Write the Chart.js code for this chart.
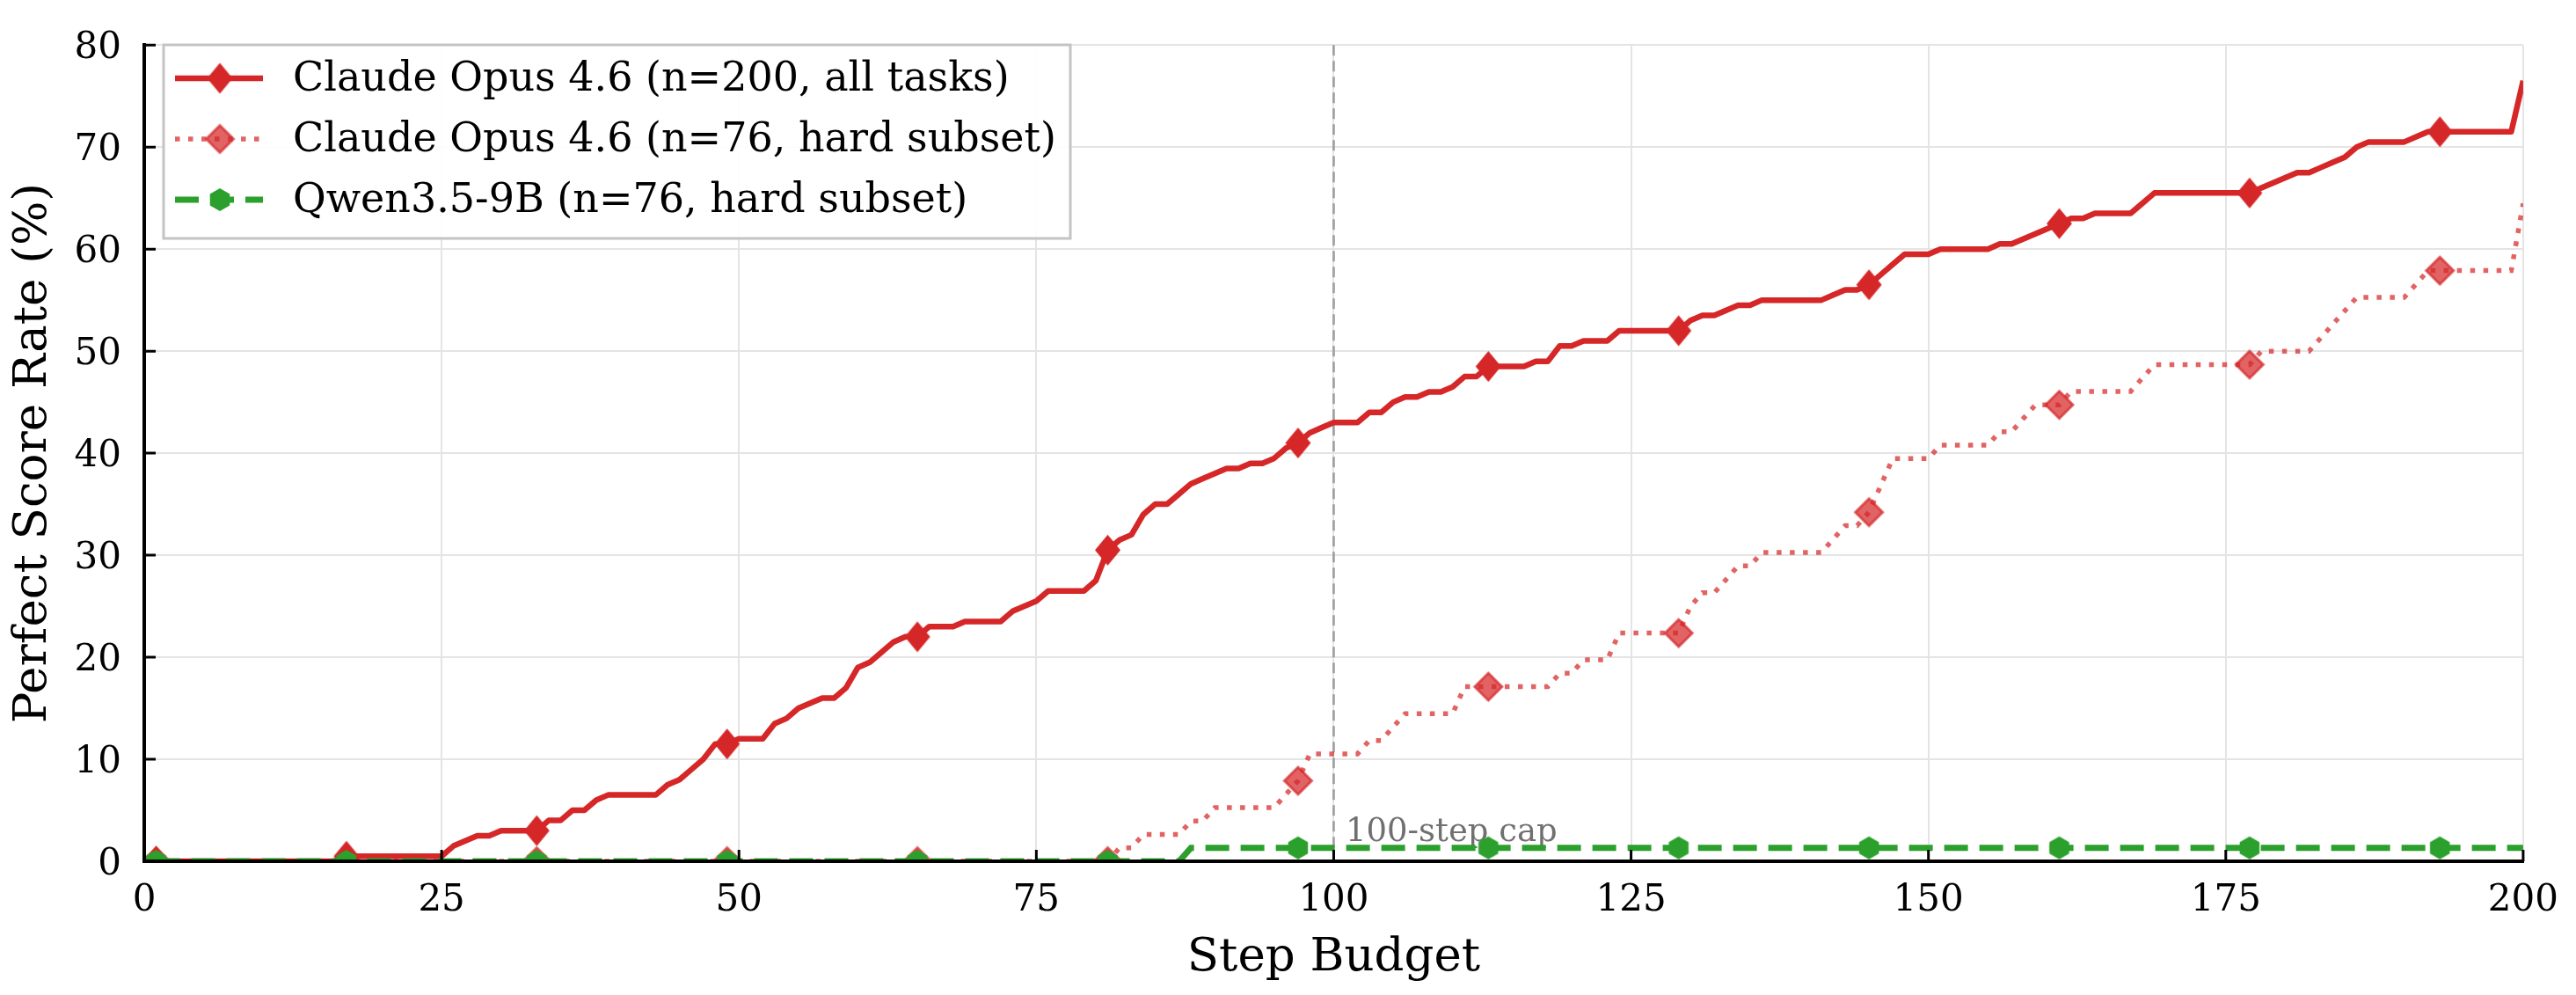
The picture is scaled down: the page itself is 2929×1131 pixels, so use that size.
<!DOCTYPE html>
<html>
<head>
<meta charset="utf-8">
<title>Perfect score rate vs step budget</title>
<script src="https://cdn.jsdelivr.net/npm/chart.js@4.4.1/dist/chart.umd.min.js"></script>
<style>
  html, body { margin: 0; padding: 0; background: #fff; }
  #wrap { width: 2929px; height: 1131px; position: relative; }
</style>
</head>
<body>
<div id="wrap"><canvas id="myChart"></canvas></div>
<script>
// step budgets 1..200 (x categories)
var steps = [];
for (var s = 1; s <= 200; s++) steps.push(s);

var xTickValues = [0, 25, 50, 75, 100, 125, 150, 175, 200];
var yTickValues = [0, 10, 20, 30, 40, 50, 60, 70, 80];

var seriesLabels = [
  'Claude Opus 4.6 (n=200, all tasks)',
  'Claude Opus 4.6 (n=76, hard subset)',
  'Qwen3.5-9B (n=76, hard subset)'
];

// perfect score rate (%) at each step budget
var allTasks = [
  0, 0, 0, 0, 0, 0, 0, 0, 0, 0, 0, 0, 0, 0, 0, 0, 0.5, 0.5, 0.5, 0.5,
  0.5, 0.5, 0.5, 0.5, 0.5, 1.5, 2.0, 2.5, 2.5, 3.0, 3.0, 3.0, 3.0, 4.0, 4.0, 5.0, 5.0, 6.0, 6.5, 6.5,
  6.5, 6.5, 6.5, 7.5, 8.0, 9.0, 10.0, 11.5, 11.5, 12.0, 12.0, 12.0, 13.5, 14.0, 15.0, 15.5, 16.0, 16.0, 17.0, 19.0,
  19.5, 20.5, 21.5, 22.0, 22.0, 23.0, 23.0, 23.0, 23.5, 23.5, 23.5, 23.5, 24.5, 25.0, 25.5, 26.5, 26.5, 26.5, 26.5, 27.5,
  30.5, 31.5, 32.0, 34.0, 35.0, 35.0, 36.0, 37.0, 37.5, 38.0, 38.5, 38.5, 39.0, 39.0, 39.5, 40.5, 41.0, 42.0, 42.5, 43.0,
  43.0, 43.0, 44.0, 44.0, 45.0, 45.5, 45.5, 46.0, 46.0, 46.5, 47.5, 47.5, 48.5, 48.5, 48.5, 48.5, 49.0, 49.0, 50.5, 50.5,
  51.0, 51.0, 51.0, 52.0, 52.0, 52.0, 52.0, 52.0, 52.0, 53.0, 53.5, 53.5, 54.0, 54.5, 54.5, 55.0, 55.0, 55.0, 55.0, 55.0,
  55.0, 55.5, 56.0, 56.0, 56.5, 57.5, 58.5, 59.5, 59.5, 59.5, 60.0, 60.0, 60.0, 60.0, 60.0, 60.5, 60.5, 61.0, 61.5, 62.0,
  62.5, 63.0, 63.0, 63.5, 63.5, 63.5, 63.5, 64.5, 65.5, 65.5, 65.5, 65.5, 65.5, 65.5, 65.5, 65.5, 65.5, 66.0, 66.5, 67.0,
  67.5, 67.5, 68.0, 68.5, 69.0, 70.0, 70.5, 70.5, 70.5, 70.5, 71.0, 71.5, 71.5, 71.5, 71.5, 71.5, 71.5, 71.5, 71.5, 76.5
];

var hardSubset = [
  0, 0, 0, 0, 0, 0, 0, 0, 0, 0, 0, 0, 0, 0, 0, 0, 0, 0, 0, 0,
  0, 0, 0, 0, 0, 0, 0, 0, 0, 0, 0, 0, 0, 0, 0, 0, 0, 0, 0, 0,
  0, 0, 0, 0, 0, 0, 0, 0, 0, 0, 0, 0, 0, 0, 0, 0, 0, 0, 0, 0,
  0, 0, 0, 0, 0, 0, 0, 0, 0, 0, 0, 0, 0, 0, 0, 0, 0, 0, 0, 0,
  0, 1.32, 1.32, 2.63, 2.63, 2.63, 2.63, 3.95, 3.95, 5.26, 5.26, 5.26, 5.26, 5.26, 5.26, 6.58, 7.89, 10.53, 10.53, 10.53,
  10.53, 10.53, 11.84, 11.84, 13.16, 14.47, 14.47, 14.47, 14.47, 14.47, 17.11, 17.11, 17.11, 17.11, 17.11, 17.11, 17.11, 17.11, 18.42, 18.42,
  19.74, 19.74, 19.74, 22.37, 22.37, 22.37, 22.37, 22.37, 22.37, 25.0, 26.32, 26.32, 27.63, 28.95, 28.95, 30.26, 30.26, 30.26, 30.26, 30.26,
  30.26, 31.58, 32.89, 32.89, 34.21, 36.84, 39.47, 39.47, 39.47, 39.47, 40.79, 40.79, 40.79, 40.79, 40.79, 42.11, 42.11, 43.42, 44.74, 44.74,
  44.74, 46.05, 46.05, 46.05, 46.05, 46.05, 46.05, 47.37, 48.68, 48.68, 48.68, 48.68, 48.68, 48.68, 48.68, 48.68, 48.68, 50.0, 50.0, 50.0,
  50.0, 50.0, 51.32, 52.63, 53.95, 55.26, 55.26, 55.26, 55.26, 55.26, 56.58, 57.89, 57.89, 57.89, 57.89, 57.89, 57.89, 57.89, 57.89, 64.47
];

var qwenHard = [
  0, 0, 0, 0, 0, 0, 0, 0, 0, 0, 0, 0, 0, 0, 0, 0, 0, 0, 0, 0,
  0, 0, 0, 0, 0, 0, 0, 0, 0, 0, 0, 0, 0, 0, 0, 0, 0, 0, 0, 0,
  0, 0, 0, 0, 0, 0, 0, 0, 0, 0, 0, 0, 0, 0, 0, 0, 0, 0, 0, 0,
  0, 0, 0, 0, 0, 0, 0, 0, 0, 0, 0, 0, 0, 0, 0, 0, 0, 0, 0, 0,
  0, 0, 0, 0, 0, 0, 0, 1.32, 1.32, 1.32, 1.32, 1.32, 1.32, 1.32, 1.32, 1.32, 1.32, 1.32, 1.32, 1.32,
  1.32, 1.32, 1.32, 1.32, 1.32, 1.32, 1.32, 1.32, 1.32, 1.32, 1.32, 1.32, 1.32, 1.32, 1.32, 1.32, 1.32, 1.32, 1.32, 1.32,
  1.32, 1.32, 1.32, 1.32, 1.32, 1.32, 1.32, 1.32, 1.32, 1.32, 1.32, 1.32, 1.32, 1.32, 1.32, 1.32, 1.32, 1.32, 1.32, 1.32,
  1.32, 1.32, 1.32, 1.32, 1.32, 1.32, 1.32, 1.32, 1.32, 1.32, 1.32, 1.32, 1.32, 1.32, 1.32, 1.32, 1.32, 1.32, 1.32, 1.32,
  1.32, 1.32, 1.32, 1.32, 1.32, 1.32, 1.32, 1.32, 1.32, 1.32, 1.32, 1.32, 1.32, 1.32, 1.32, 1.32, 1.32, 1.32, 1.32, 1.32,
  1.32, 1.32, 1.32, 1.32, 1.32, 1.32, 1.32, 1.32, 1.32, 1.32, 1.32, 1.32, 1.32, 1.32, 1.32, 1.32, 1.32, 1.32, 1.32, 1.32
];

var capStep = 100;
var markEvery = 16;

var RED = '#d62728';
var RED_A = 'rgba(214, 39, 40, 0.72)';
var GREEN = '#2ca02c';
var FONT = "'DejaVu Serif', 'Liberation Serif', serif";

// marker images
function makeDiamond(w, h, fill, stroke, lw) {
  var c = document.createElement('canvas');
  c.width = w + 6; c.height = h + 6;
  var g = c.getContext('2d');
  var cx = c.width / 2, cy = c.height / 2;
  g.beginPath();
  g.moveTo(cx, cy - h / 2);
  g.lineTo(cx + w / 2, cy);
  g.lineTo(cx, cy + h / 2);
  g.lineTo(cx - w / 2, cy);
  g.closePath();
  g.fillStyle = fill;
  g.fill();
  if (stroke) {
    g.strokeStyle = stroke;
    g.lineWidth = lw;
    g.stroke();
  }
  return c;
}
function makeHexagon(r, fill) {
  var c = document.createElement('canvas');
  c.width = Math.ceil(2 * r) + 4; c.height = Math.ceil(2 * r) + 4;
  var g = c.getContext('2d');
  var cx = c.width / 2, cy = c.height / 2;
  g.beginPath();
  for (var k = 0; k < 6; k++) {
    var a = (-90 + 60 * k) * Math.PI / 180;
    var px = cx + r * Math.cos(a), py = cy + r * Math.sin(a);
    if (k === 0) g.moveTo(px, py); else g.lineTo(px, py);
  }
  g.closePath();
  g.fillStyle = fill;
  g.fill();
  return c;
}

var markAll = makeDiamond(29, 35, RED);
var markHard = makeDiamond(31, 31, RED_A, RED_A, 3);
var markQwen = makeHexagon(13, GREEN);

function toPoints(vals) {
  return steps.map(function(st, i) { return {x: st, y: vals[i]}; });
}
function everyN(ctx) {
  return ctx.dataIndex % markEvery === 0 ? 16 : 0;
}

var lineStyles = [
  {color: RED, width: 6.5, dash: [], marker: markAll},
  {color: RED_A, width: 5.5, dash: [5.5, 9.5], marker: markHard},
  {color: GREEN, width: 7, dash: [27, 13], marker: markQwen}
];

// 100-step cap marker line and label (drawn under the data)
var capLine = {
  id: 'capLine',
  beforeDatasetsDraw: function(chart) {
    var ctx = chart.ctx, a = chart.chartArea;
    var x = chart.scales.x.getPixelForValue(capStep);
    ctx.save();
    ctx.strokeStyle = '#a0a0a0';
    ctx.lineWidth = 2.7;
    ctx.setLineDash([12, 6]);
    ctx.beginPath();
    ctx.moveTo(x, a.top);
    ctx.lineTo(x, a.bottom);
    ctx.stroke();
    ctx.setLineDash([]);
    ctx.fillStyle = '#707070';
    ctx.font = '37px ' + FONT;
    ctx.textAlign = 'left';
    ctx.textBaseline = 'alphabetic';
    ctx.fillText('100-step cap', chart.scales.x.getPixelForValue(capStep + 1), chart.scales.y.getPixelForValue(1.95));
    ctx.restore();
  }
};

// inward tick marks
var inTicks = {
  id: 'inTicks',
  afterDatasetsDraw: function(chart) {
    var ctx = chart.ctx, a = chart.chartArea;
    var xs = chart.scales.x, ys = chart.scales.y;
    ctx.save();
    ctx.strokeStyle = '#000';
    ctx.lineWidth = 3;
    ctx.beginPath();
    xs.ticks.forEach(function(t) {
      var px = xs.getPixelForValue(t.value);
      ctx.moveTo(px, a.bottom);
      ctx.lineTo(px, a.bottom - 13);
    });
    ys.ticks.forEach(function(t) {
      var py = ys.getPixelForValue(t.value);
      ctx.moveTo(a.left, py);
      ctx.lineTo(a.left + 13, py);
    });
    ctx.stroke();
    ctx.restore();
  }
};

// framed legend in the upper left of the plot
var boxLegend = {
  id: 'boxLegend',
  afterDraw: function(chart) {
    var ctx = chart.ctx;
    var bx = 186, by = 51, bw = 1031, bh = 220;
    var rows = [89, 158, 227];
    ctx.save();
    ctx.fillStyle = 'rgba(255,255,255,0.92)';
    ctx.fillRect(bx, by, bw, bh);
    ctx.strokeStyle = '#c4c4c4';
    ctx.lineWidth = 3;
    ctx.strokeRect(bx, by, bw, bh);
    chart.data.datasets.forEach(function(ds, i) {
      var st = lineStyles[i];
      var y = rows[i];
      ctx.strokeStyle = st.color;
      ctx.lineWidth = st.width;
      ctx.lineCap = 'butt';
      ctx.setLineDash(st.dash);
      ctx.beginPath();
      ctx.moveTo(199, y);
      ctx.lineTo(299, y);
      ctx.stroke();
      ctx.setLineDash([]);
      ctx.drawImage(st.marker, 250 - st.marker.width / 2, y - st.marker.height / 2);
      ctx.fillStyle = '#000';
      ctx.font = '46px ' + FONT;
      ctx.textAlign = 'left';
      ctx.textBaseline = 'middle';
      ctx.fillText(ds.label, 333, y + 2);
    });
    ctx.restore();
  }
};

Chart.defaults.font.family = FONT;
Chart.defaults.color = '#000';

var ctx = document.getElementById('myChart');
var myChart = new Chart(ctx, {
  type: 'line',
  data: {
    datasets: [
      {
        label: seriesLabels[0],
        data: toPoints(allTasks),
        borderColor: RED,
        borderWidth: 6.5,
        borderJoinStyle: 'round',
        pointStyle: markAll,
        pointRadius: everyN,
        pointHoverRadius: everyN,
        tension: 0,
        clip: 0,
        order: 3
      },
      {
        label: seriesLabels[1],
        data: toPoints(hardSubset),
        borderColor: RED_A,
        borderWidth: 5.5,
        borderDash: [5.5, 9.5],
        borderCapStyle: 'butt',
        pointStyle: markHard,
        pointRadius: everyN,
        pointHoverRadius: everyN,
        tension: 0,
        clip: 0,
        order: 2
      },
      {
        label: seriesLabels[2],
        data: toPoints(qwenHard),
        borderColor: GREEN,
        borderWidth: 7,
        borderDash: [27, 13],
        borderCapStyle: 'butt',
        pointStyle: markQwen,
        pointRadius: everyN,
        pointHoverRadius: everyN,
        tension: 0,
        clip: 0,
        order: 1
      }
    ]
  },
  options: {
    responsive: true,
    maintainAspectRatio: false,
    devicePixelRatio: 1,
    animation: false,
    events: [],
    layout: { padding: { left: 0, top: 32, right: 58, bottom: 0 } },
    plugins: {
      legend: { display: false },
      tooltip: { enabled: false }
    },
    scales: {
      x: {
        type: 'linear',
        min: 0,
        max: 200,
        afterBuildTicks: function(axis) {
          axis.ticks = xTickValues.map(function(v) { return {value: v}; });
        },
        afterFit: function(scale) { scale.height = 152; },
        grid: { color: '#e4e4e4', lineWidth: 2, drawTicks: false },
        border: { display: true, color: '#000', width: 4, z: 1 },
        ticks: { font: { size: 42 }, color: '#000', padding: 20, autoSkip: false, maxRotation: 0 },
        title: {
          display: true,
          text: 'Step Budget',
          font: { size: 53 },
          color: '#000',
          padding: { top: 0, bottom: 10 }
        }
      },
      y: {
        type: 'linear',
        min: 0,
        max: 80,
        afterBuildTicks: function(axis) {
          axis.ticks = yTickValues.map(function(v) { return {value: v}; });
        },
        afterFit: function(scale) { scale.width = 164; },
        grid: { color: '#e4e4e4', lineWidth: 2, drawTicks: false },
        border: { display: true, color: '#000', width: 4, z: 1 },
        ticks: { font: { size: 42 }, color: '#000', padding: 26, labelOffset: 4 },
        title: {
          display: true,
          text: 'Perfect Score Rate (%)',
          font: { size: 53 },
          color: '#000',
          padding: { top: 6, bottom: 0 }
        }
      }
    }
  },
  plugins: [capLine, inTicks, boxLegend]
});
</script>
</body>
</html>
